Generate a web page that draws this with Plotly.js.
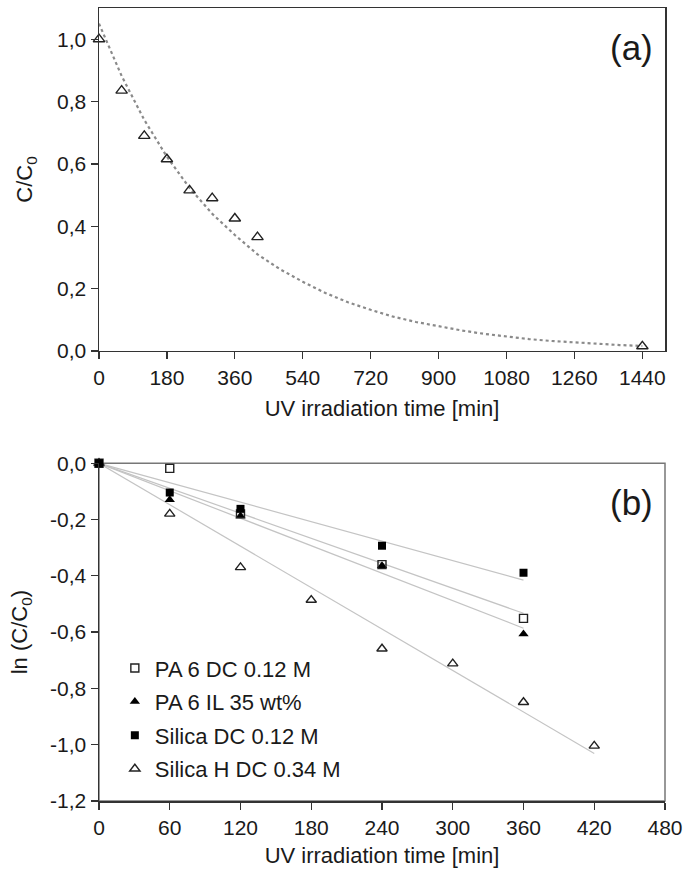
<!DOCTYPE html>
<html>
<head>
<meta charset="utf-8">
<script src="https://cdn.plot.ly/plotly-3.0.1.min.js"></script>
<style>html,body{margin:0;padding:0;background:#fff;}#chart{width:686px;height:872px;}</style>
</head>
<body>
<div id="chart"></div>
<script>
// ---- Panel (a) data ----
const timeA = [0, 60, 120, 180, 240, 300, 360, 420, 1440];
const ratioA = [1.0, 0.835, 0.69, 0.615, 0.515, 0.49, 0.425, 0.365, 0.015];
// dotted fit curve
const fitTimeA = [0, 60, 120, 180, 240, 300, 360, 420, 480, 540, 600, 660, 720, 780, 840, 900, 960, 1020, 1080, 1140, 1200, 1260, 1320, 1380, 1440];
const fitRatioA = [1.05, 0.882, 0.741, 0.623, 0.523, 0.44, 0.372, 0.31, 0.262, 0.222, 0.186, 0.156, 0.132, 0.11, 0.093, 0.079, 0.066, 0.055, 0.046, 0.038, 0.032, 0.027, 0.023, 0.019, 0.016];

// ---- Panel (b) data ----
const seriesNames = ['PA 6 DC 0.12 M', 'PA 6 IL 35 wt%', 'Silica DC 0.12 M', 'Silica H DC 0.34 M'];
const timeB = [0, 60, 120, 240, 360];
const pa6DC = [0, -0.018, -0.18, -0.36, -0.551];
const pa6IL = [0, -0.13, -0.187, -0.364, -0.607];
const silicaDC = [0, -0.104, -0.162, -0.293, -0.389];
const timeH = [0, 60, 120, 180, 240, 300, 360, 420];
const silicaH = [0, -0.18, -0.37, -0.486, -0.659, -0.712, -0.849, -1.004];
// linear fit lines (start, end)
const fitTimeB = [[0, 360], [0, 360], [0, 360], [0, 420]];
const fitLnB = [[0, -0.533], [0, -0.586], [0, -0.415], [0, -1.031]];

// ticks
const xTicksA = [0, 180, 360, 540, 720, 900, 1080, 1260, 1440];
const yTicksA = [0, 0.2, 0.4, 0.6, 0.8, 1.0];
const yTickTextA = ['0,0', '0,2', '0,4', '0,6', '0,8', '1,0'];
const xTicksB = [0, 60, 120, 180, 240, 300, 360, 420, 480];
const yTicksB = [0, -0.2, -0.4, -0.6, -0.8, -1.0, -1.2];
const yTickTextB = ['0,0', '-0,2', '-0,4', '-0,6', '-0,8', '-1,0', '-1,2'];

const FONT = 'Liberation Sans, Arial, sans-serif';
const TXT = '#1a1a1a';
const fitGray = '#c4c4c4';

const traces = [];
// (a)
traces.push({x: fitTimeA, y: fitRatioA, xaxis: 'x', yaxis: 'y', mode: 'lines', showlegend: false,
  line: {color: '#8a8a8a', width: 2.2, dash: 'dot'}, hoverinfo: 'skip'});
traces.push({x: timeA, y: ratioA, xaxis: 'x', yaxis: 'y', mode: 'markers', showlegend: false, cliponaxis: false,
  marker: {symbol: 'triangle-up-open', size: 10, color: '#222', line: {color: '#222', width: 1.4}}});
// (b) fit lines
for (let i = 0; i < 4; i++) {
  traces.push({x: fitTimeB[i], y: fitLnB[i], xaxis: 'x2', yaxis: 'y2', mode: 'lines', showlegend: false,
    line: {color: fitGray, width: 1.2}, hoverinfo: 'skip'});
}
// (b) markers
traces.push({x: timeH, y: silicaH, xaxis: 'x2', yaxis: 'y2', mode: 'markers', name: seriesNames[3], legendgroup: 'g4', legendrank: 4, cliponaxis: false,
  marker: {symbol: 'triangle-up-open', size: 9, color: '#222', line: {color: '#222', width: 1.4}}});
traces.push({x: timeB, y: pa6IL, xaxis: 'x2', yaxis: 'y2', mode: 'markers', name: seriesNames[1], legendgroup: 'g2', legendrank: 2, cliponaxis: false,
  marker: {symbol: 'triangle-up', size: 9, color: '#000'}});
traces.push({x: timeB, y: pa6DC, xaxis: 'x2', yaxis: 'y2', mode: 'markers', name: seriesNames[0], legendgroup: 'g1', legendrank: 1, cliponaxis: false,
  marker: {symbol: 'square-open', size: 8, color: '#222', line: {color: '#222', width: 1.4}}});
traces.push({x: timeB, y: silicaDC, xaxis: 'x2', yaxis: 'y2', mode: 'markers', name: seriesNames[2], legendgroup: 'g3', legendrank: 3, cliponaxis: false,
  marker: {symbol: 'square', size: 8, color: '#000'}});

const axBase = {
  showline: true, linewidth: 1.5, ticks: 'outside', ticklen: 7, tickwidth: 1.3,
  showgrid: false, zeroline: false, tickfont: {family: FONT, size: 21, color: TXT},
  fixedrange: true
};

const layout = {
  width: 686, height: 872,
  margin: {l: 99, r: 21, t: 8, b: 71},
  paper_bgcolor: '#fff', plot_bgcolor: '#fff',
  font: {family: FONT, color: TXT},
  showlegend: true,
  legend: {x: 0.028, y: 0.194, xanchor: 'left', yanchor: 'top', bgcolor: 'rgba(0,0,0,0)',
    font: {family: FONT, size: 22, color: TXT}, tracegroupgap: 2, traceorder: 'grouped', itemwidth: 30},
  xaxis: Object.assign({}, axBase, {domain: [0, 1], anchor: 'y', range: [0, 1500], tickvals: xTicksA,
    linecolor: '#333', tickcolor: '#333', mirror: true,
    title: {text: 'UV irradiation time [min]', font: {family: FONT, size: 22, color: TXT}, standoff: 13}}),
  yaxis: Object.assign({}, axBase, {domain: [0.5675, 1], anchor: 'x', range: [0, 1.1], tickvals: yTicksA, ticktext: yTickTextA,
    linecolor: '#333', tickcolor: '#333', mirror: true,
    title: {text: 'C/C<sub>0</sub>', font: {family: FONT, size: 22, color: TXT}, standoff: 18}}),
  xaxis2: Object.assign({}, axBase, {domain: [0, 1], anchor: 'y2', range: [0, 480], tickvals: xTicksB,
    linecolor: '#333', tickcolor: '#333',
    title: {text: 'UV irradiation time [min]', font: {family: FONT, size: 22, color: TXT}, standoff: 10}}),
  yaxis2: Object.assign({}, axBase, {domain: [0, 0.4259], anchor: 'x2', range: [-1.2, 0], tickvals: yTicksB, ticktext: yTickTextB,
    linecolor: '#333', tickcolor: '#333',
    title: {text: 'ln (C/C<sub>0</sub>)', font: {family: FONT, size: 22, color: TXT}, standoff: 16}}),
  shapes: [
    {type: 'rect', xref: 'x2 domain', yref: 'y2 domain', x0: 0, x1: 1, y0: 0, y1: 1,
      line: {color: '#777', width: 1.5}, layer: 'below'}
  ],
  annotations: [
    {text: '(a)', xref: 'x domain', yref: 'y domain', x: 0.94, y: 0.885, xanchor: 'center', yanchor: 'middle',
      showarrow: false, font: {family: FONT, size: 35, color: TXT}},
    {text: '(b)', xref: 'x2 domain', yref: 'y2 domain', x: 0.94, y: 0.885, xanchor: 'center', yanchor: 'middle',
      showarrow: false, font: {family: FONT, size: 35, color: TXT}}
  ]
};

Plotly.newPlot('chart', traces, layout, {staticPlot: true, displayModeBar: false});
</script>
</body>
</html>
